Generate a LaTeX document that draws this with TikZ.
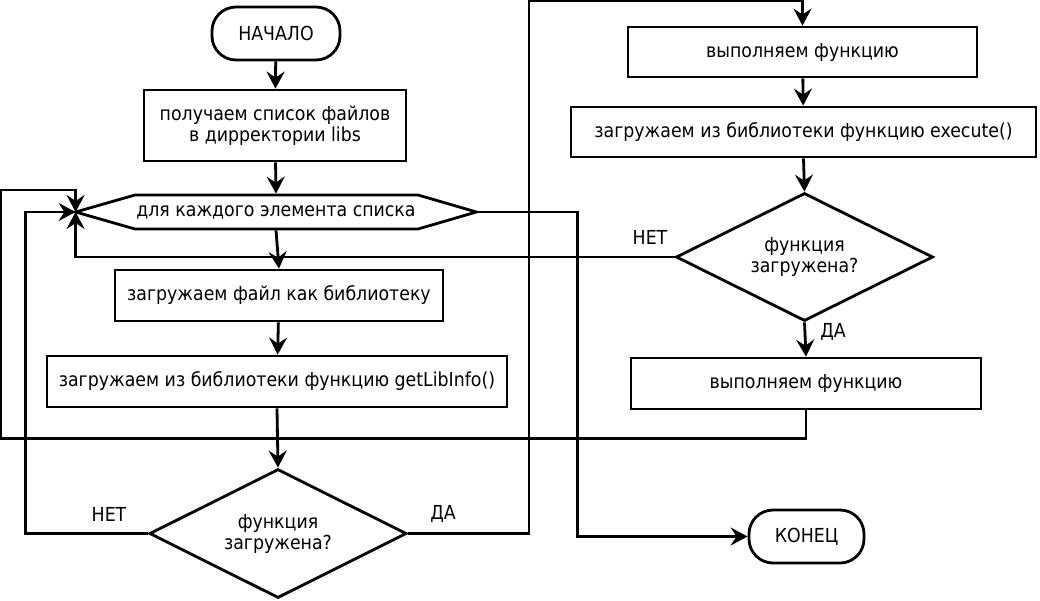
\documentclass[tikz,border=0pt]{standalone}
\usepackage{fontspec}
\setmainfont{DejaVu Sans Condensed}
\usetikzlibrary{arrows.meta,shapes.geometric}
\begin{document}
\begin{tikzpicture}[x=1pt,y=-1pt,line width=2.8pt,
  every node/.style={font=\fontsize{19.3}{21}\selectfont},
  term/.style={draw,rounded corners=24pt,minimum height=53pt,inner sep=0pt},
  proc/.style={draw,minimum height=51pt,inner sep=0pt,align=center},
  dec/.style={draw,diamond,aspect=2,inner sep=0pt,align=center},
  lbl/.style={inner sep=0pt},
  arr/.style={-{Stealth[length=17pt,width=18pt,inset=6pt]}}]
\useasboundingbox (0,0) rectangle (1040,600);
\node[term,minimum width=128pt] (start) at (276,33.5) {НАЧАЛО};
\node[proc,minimum width=262pt,minimum height=71pt] (list) at (275,125.5) {получаем список файлов\\в дирректории libs};
\node[inner sep=0pt,minimum width=398pt,minimum height=34pt] (hex) at (276,212) {для каждого элемента списка};
\draw (hex.west) -- (135,195) -- (418,195) -- (hex.east) -- (418,229) -- (135,229) -- cycle;
\node[proc,minimum width=328pt] (loadlib) at (279,295.5) {загружаем файл как библиотеку};
\node[proc,minimum width=460pt] (getinfo) at (277,381.5) {загружаем из библиотеки функцию getLibInfo()};
\node[dec,minimum width=257pt,minimum height=129pt] (dia1) at (278,533.5) {функция\\загружена?};
\node[proc,minimum width=349pt,minimum height=50pt] (exec1) at (802.5,52) {выполняем функцию};
\node[proc,minimum width=465pt,minimum height=50pt] (getexec) at (803.5,132) {загружаем из библиотеки функцию execute()};
\node[dec,minimum width=257pt,minimum height=128pt] (dia2) at (804.5,257) {функция\\загружена?};
\node[proc,minimum width=350pt] (exec2) at (806,383.5) {выполняем функцию};
\node[term,minimum width=115pt] (end) at (806.5,536.5) {КОНЕЦ};
\node[lbl] (no1) at (109,514) {НЕТ};
\node[lbl] (yes1) at (443,514) {ДА};
\node[lbl] (no2) at (650,237) {НЕТ};
\node[lbl] (yes2) at (833,332) {ДА};
\coordinate (topc) at (529,1);
\coordinate (lt) at (1,190);
\draw[arr] (start) -- (list);
\draw[arr] (list) -- (hex.north);
\draw[arr] (hex.south) -- (loadlib.north);
\draw[arr] (loadlib) -- (getinfo);
\draw[arr] (getinfo.south) -- (dia1.north);
\draw[arr] (dia1.west) -- ++(-123,0) |- (hex.west);
\draw[arr] (dia1.east) -| (topc) -| (exec1.north);
\draw[arr] (exec1) -- (getexec);
\draw[arr] (getexec.south) -- (dia2.north);
\draw[arr] (dia2.west) -| (hex.west);
\draw[arr] (dia2.south) -- (exec2.north);
\draw[arr] (exec2.south) -- ++(0,28) -| (lt) -| (hex.west);
\draw[arr] (hex.east) -- ++(101,0) |- (end.west);
\end{tikzpicture}
\end{document}
